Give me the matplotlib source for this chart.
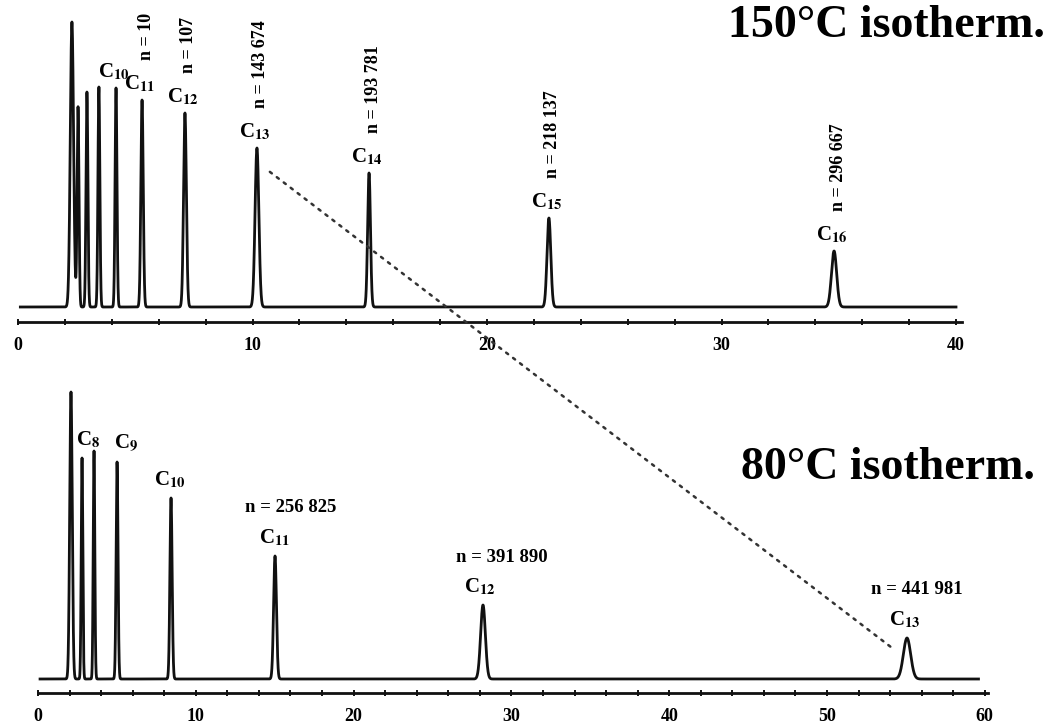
import matplotlib.pyplot as plt
from matplotlib.patches import ConnectionPatch
from matplotlib.ticker import MultipleLocator
import numpy as np

plt.rcParams["font.family"] = ["Liberation Serif", "DejaVu Serif"]
plt.rcParams["mathtext.fontset"] = "stix"

# 150°C isotherm (top chromatogram): retention time (min), peak height, peak sigma (min)
hot_times = [2.30, 2.56, 2.94, 3.45, 4.18, 5.29, 7.12, 10.19, 14.97, 22.64, 34.80]
hot_heights = [285, 200, 215, 220, 219, 207, 194, 159, 134, 89, 56]
hot_widths = [0.07, 0.04, 0.04, 0.04, 0.04, 0.05, 0.06, 0.08, 0.06, 0.08, 0.11]
hot_labels = ["", "", "", "", "10", "11", "12", "13", "14", "15", "16"]
hot_plates = ["", "", "", "", "", "n = 10", "n = 107", "n = 143 674",
              "n = 193 781", "n = 218 137", "n = 296 667"]

# 80°C isotherm (bottom chromatogram)
cold_times = [2.09, 2.79, 3.55, 5.01, 8.43, 15.02, 28.20, 55.07]
cold_heights = [287, 221, 228, 217, 181, 123, 74, 41]
cold_widths = [0.08, 0.05, 0.05, 0.06, 0.07, 0.09, 0.15, 0.23]
cold_labels = ["", "8", "", "9", "10", "11", "12", "13"]
cold_plates = ["", "", "", "", "", "n = 256 825", "n = 391 890", "n = 441 981"]


def trace(t, times, heights, widths):
    y = np.zeros_like(t)
    for t0, h, s in zip(times, heights, widths):
        y += h * np.exp(-0.5 * ((t - t0) / s) ** 2)
    return y


def style_axis(ax):
    for side in ("left", "right", "top"):
        ax.spines[side].set_visible(False)
    ax.spines["bottom"].set_linewidth(2.0)
    ax.spines["bottom"].set_color("#111111")
    ax.set_yticks([])
    ax.xaxis.set_major_locator(MultipleLocator(10))
    ax.xaxis.set_minor_locator(MultipleLocator(2))
    ax.tick_params(axis="x", which="both", direction="inout", length=5,
                   width=1.4, color="#111111", pad=8, labelsize=13)
    for lab in ax.get_xticklabels():
        lab.set_fontweight("bold")
    ax.patch.set_visible(False)


fig = plt.figure(figsize=(10.47, 7.28), dpi=100)

# top panel: axis line at y=322px, baseline 15px above it
ax1 = fig.add_axes([18 / 1047, 1 - 322 / 728, 944 / 1047, 322 / 728])
ax1.set_xlim(0, 944 / 23.45)
ax1.set_ylim(-15, 307)
t1 = np.linspace(0.1, 40.0, 20000)
ax1.plot(t1, trace(t1, hot_times, hot_heights, hot_widths), color="#111111", lw=2.0)
style_axis(ax1)

# bottom panel
ax2 = fig.add_axes([38 / 1047, 1 - 693 / 728, 950 / 1047, 313 / 728])
ax2.set_xlim(0, 950 / 15.78)
ax2.set_ylim(-14, 299)
t2 = np.linspace(0.13, 59.6, 30000)
ax2.plot(t2, trace(t2, cold_times, cold_heights, cold_widths), color="#111111", lw=2.0)
style_axis(ax2)

# peak labels, top
for t0, h, lab, plate in zip(hot_times, hot_heights, hot_labels, hot_plates):
    if lab:
        ax1.annotate(f"C$_{{\\mathbf{{{lab}}}}}$", (t0, h), xytext=(-2, 6),
                     textcoords="offset pixels", ha="center", va="bottom",
                     fontsize=15, fontweight="bold")
    if plate:
        ax1.annotate(plate, (t0, h), xytext=(4, 40), textcoords="offset pixels",
                     ha="center", va="bottom", rotation=90, fontsize=13,
                     fontweight="bold")

# peak labels, bottom
cold_dx = [0, 6, 0, 9, -1, 0, -3, -2]
plate_dx = [0, 0, 0, 0, 0, 16, 19, 10]
for t0, h, lab, plate, dx, pdx in zip(cold_times, cold_heights, cold_labels,
                                      cold_plates, cold_dx, plate_dx):
    if lab:
        ax2.annotate(f"C$_{{\\mathbf{{{lab}}}}}$", (t0, h), xytext=(dx, 8),
                     textcoords="offset pixels", ha="center", va="bottom",
                     fontsize=15, fontweight="bold")
    if plate:
        ax2.annotate(plate, (t0, h), xytext=(pdx, 48), textcoords="offset pixels",
                     ha="center", va="center", fontsize=13.5, fontweight="bold")

# dotted guide joining the C13 peaks of both runs
con = ConnectionPatch(xyA=(hot_times[7] + 0.55, hot_heights[7] * 0.85), coordsA=ax1.transData,
                      xyB=(cold_times[7] - 0.75, cold_heights[7] * 0.7), coordsB=ax2.transData,
                      color="#333333", lw=1.8, linestyle=(0, (1, 2.5)))
fig.add_artist(con)

fig.text(1045 / 1047, 1 - 37 / 728, "150°C isotherm.", ha="right", va="baseline",
         fontsize=33, fontweight="bold")
fig.text(1035 / 1047, 1 - 479 / 728, "80°C isotherm.", ha="right", va="baseline",
         fontsize=33, fontweight="bold")

fig.savefig("out.png", dpi=100)
